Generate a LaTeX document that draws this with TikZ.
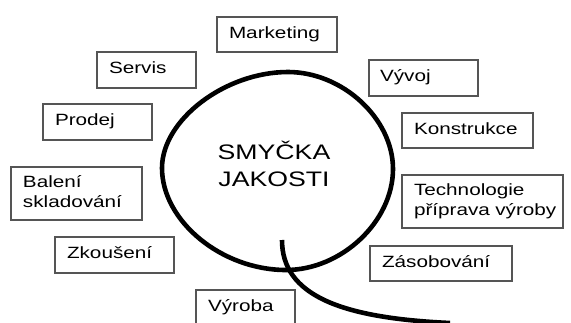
\documentclass[tikz,border=0pt]{standalone}
\usepackage{fontspec}
\setmainfont[FakeStretch=1.27]{Liberation Sans}
\definecolor{boxline}{RGB}{85,85,85}
\begin{document}
\begin{tikzpicture}[x=1pt,y=-1pt,
  stage/.style={draw=boxline, line width=1.2pt, anchor=west, inner xsep=12pt, inner ysep=0pt,
    outer sep=0pt, align=left, font=\fontsize{16.3}{19.5}\selectfont,
    execute at begin node=\strut, execute at end node=\strut},
  loopline/.style={line width=4.6pt, black, line cap=round},
  title/.style={align=center, font=\fontsize{21}{27}\selectfont}]
\fill[white] (0,0) rectangle (571,322);
\useasboundingbox (0,0) rectangle (571,322);
\clip (0,0) rectangle (571,322);

% stages of the quality loop
\node[stage, minimum width=120, minimum height=35, text width=96] (marketing) at (217,34.5) {Marketing};
\node[stage, minimum width=99,  minimum height=36, text width=75] (servis) at (97,70) {Servis};
\node[stage, minimum width=109, minimum height=36, text width=85] (prodej) at (43,122) {Prodej};
\node[stage, minimum width=109, minimum height=36, text width=87, inner xsep=11pt] (vyvoj) at (369,78) {Vývoj};
\node[stage, minimum width=131, minimum height=35, text width=107] (konstrukce) at (402,130.5) {Konstrukce};
\node[stage, minimum width=131, minimum height=53, text width=107] (baleni) at (11,193.5) {Balení\\skladování};
\node[stage, minimum width=119, minimum height=36, text width=95] (zkouseni) at (55,255) {Zkoušení};
\node[stage, minimum width=99,  minimum height=36, text width=75] (vyroba) at (196,308) {Výroba};
\node[stage, minimum width=161, minimum height=53, text width=137] (technologie) at (402,201.5) {Technologie\\\mbox{příprava výroby}};
\node[stage, minimum width=142, minimum height=35, text width=118] (zasobovani) at (370,263.5) {Zásobování};

% the loop itself: four quarter arcs, close to an ellipse
\coordinate (lp-left)   at (162,168);
\coordinate (lp-top)    at (288,72);
\coordinate (lp-right)  at (393,169);
\coordinate (lp-bottom) at (286,270);
\draw[loopline] (lp-left)
  .. controls (162,120) and (225,72) .. (lp-top)
  .. controls (342.6,72) and (393,118.6) .. (lp-right)
  .. controls (393,221.5) and (341.6,270) .. (lp-bottom)
  .. controls (221.5,270) and (162,221) .. (lp-left) -- cycle;
\node[title] (smycka) at (274,164) {SMYČKA\\JAKOSTI};

% tail leaving the loop
\coordinate (tailstart) at (282,240);
\coordinate (tailend) at (450,323);
\draw[loopline, line cap=butt] (tailstart) .. controls (282,295) and (340,318) .. (tailend);
\end{tikzpicture}
\end{document}
